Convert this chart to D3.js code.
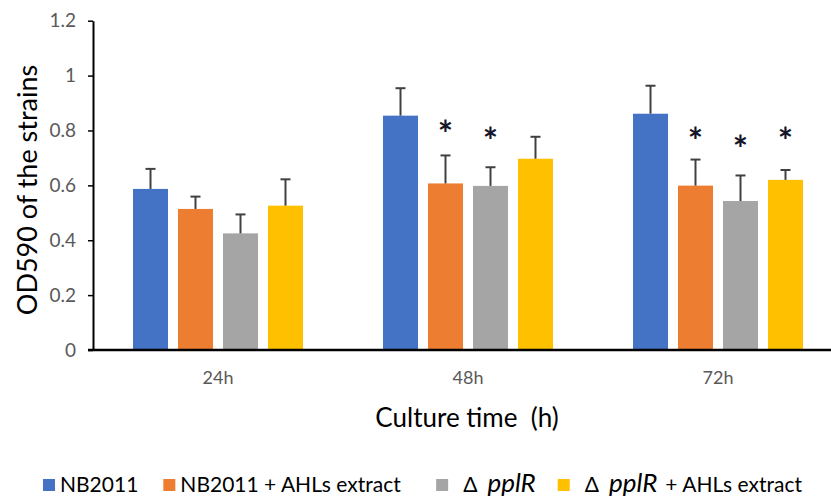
<!DOCTYPE html>
<html>
<head>
<meta charset="utf-8">
<script src="https://cdn.jsdelivr.net/npm/d3@7"></script>
<style>
  body { margin: 0; background: #fff; }
  svg { display: block; }
</style>
</head>
<body>
<svg id="chart" width="831" height="499"></svg>
<script>
// --- data ---
const times = ["24h", "48h", "72h"];
const seriesNames = ["NB2011", "NB2011 + AHLs extract", "ΔpplR", "ΔpplR + AHLs extract"];
const nb2011 = [0.587, 0.854, 0.861];
const nb2011Err = [0.073, 0.100, 0.102];
const nb2011Ahl = [0.514, 0.607, 0.599];
const nb2011AhlErr = [0.045, 0.102, 0.095];
const pplR = [0.425, 0.598, 0.543];
const pplRErr = [0.069, 0.068, 0.093];
const pplRAhl = [0.526, 0.697, 0.620];
const pplRAhlErr = [0.096, 0.080, 0.036];
// level (in OD units) where the significance star sits, null = none
const nb2011Star = [null, null, null];
const nb2011AhlStar = [null, 0.803, 0.777];
const pplRStar = [null, 0.777, 0.748];
const pplRAhlStar = [null, null, 0.777];
const yTicks = [0, 0.2, 0.4, 0.6, 0.8, 1, 1.2];

const colors = ["#4472C4", "#ED7D31", "#A5A5A5", "#FFC000"];
const values = [nb2011, nb2011Ahl, pplR, pplRAhl];
const errs = [nb2011Err, nb2011AhlErr, pplRErr, pplRAhlErr];
const stars = [nb2011Star, nb2011AhlStar, pplRStar, pplRAhlStar];

const rows = [];
seriesNames.forEach((s, si) => {
    times.forEach((t, ti) => {
        rows.push({ series: s, si, time: t, v: values[si][ti], e: errs[si][ti], star: stars[si][ti] });
    });
});

const svg = d3.select("#chart");
const W = 831, H = 499;
const font = "Lato, 'Open Sans', sans-serif";
const mLeft = 93, mRight = 843, mTop = 20.7, mBottom = 350;

const x0 = d3.scaleBand().domain(times).range([mLeft, mRight]).paddingInner(0).paddingOuter(0);
const x1 = d3.scaleBand().domain(seriesNames).range([0, x0.bandwidth()])
    .paddingInner(0.222).paddingOuter(0.889);
const y = d3.scaleLinear().domain([0, 1.2]).range([mBottom, mTop]);

// bars
svg.append("g").selectAll("rect")
    .data(rows)
    .join("rect")
    .attr("x", d => x0(d.time) + x1(d.series))
    .attr("y", d => y(d.v))
    .attr("width", x1.bandwidth())
    .attr("height", d => y(0) - y(d.v))
    .attr("fill", d => colors[d.si]);

// error bars (upper only)
const eb = svg.append("g").attr("stroke", "#404040").attr("stroke-width", 2);
rows.forEach(d => {
    const cx = x0(d.time) + x1(d.series) + x1.bandwidth() / 2;
    eb.append("line").attr("x1", cx).attr("x2", cx).attr("y1", y(d.v)).attr("y2", y(d.v + d.e));
    eb.append("line").attr("x1", cx - 5).attr("x2", cx + 5).attr("y1", y(d.v + d.e)).attr("y2", y(d.v + d.e));
});

// significance stars
svg.append("g").selectAll("text")
    .data(rows.filter(d => d.star !== null))
    .join("text")
    .attr("x", d => x0(d.time) + x1(d.series) + x1.bandwidth() / 2)
    .attr("y", d => y(d.star) + 17)
    .attr("text-anchor", "middle")
    .style("font-family", font)
    .style("font-size", "36px")
    .style("font-weight", "bold")
    .attr("fill", "#14142a")
    .text("*");

// y axis
const yAxis = svg.append("g")
    .attr("transform", `translate(${mLeft},0)`)
    .call(d3.axisLeft(y).tickValues(yTicks).tickSize(5).tickSizeOuter(0).tickFormat(d => d).tickPadding(12));
yAxis.select(".domain").attr("stroke", "#000").attr("stroke-width", 2);
yAxis.selectAll(".tick line").attr("stroke", "#000").attr("stroke-width", 1.5);
yAxis.selectAll(".tick text")
    .style("font-family", font).style("font-size", "19px").attr("fill", "#595959");

// x axis baseline
svg.append("line")
    .attr("x1", mLeft - 5).attr("x2", W)
    .attr("y1", y(0)).attr("y2", y(0))
    .attr("stroke", "#000").attr("stroke-width", 2.5);

// category labels
svg.append("g").selectAll("text")
    .data(times)
    .join("text")
    .attr("x", d => x0(d) + x0.bandwidth() / 2)
    .attr("y", 384)
    .attr("text-anchor", "middle")
    .style("font-family", font).style("font-size", "18px")
    .attr("fill", "#595959")
    .text(d => d);

// axis titles
svg.append("text")
    .attr("x", (mLeft + mRight) / 2 - 1).attr("y", 427)
    .attr("text-anchor", "middle")
    .style("font-family", font).style("font-size", "26px")
    .attr("fill", "#000")
    .attr("xml:space", "preserve")
    .text("Culture time  (h)");

svg.append("text")
    .attr("transform", `translate(37,190) rotate(-90)`)
    .attr("text-anchor", "middle")
    .style("font-family", font).style("font-size", "27px")
    .attr("fill", "#000")
    .text("OD590 of the strains");

// legend
const legend = svg.append("g").style("font-family", font).style("font-size", "21px");
const legY = 485;
const gaps = [25, 35, 22, 0];
let lx = 43;
seriesNames.forEach((s, i) => {
    legend.append("rect")
        .attr("x", lx).attr("y", legY - 6).attr("width", 12).attr("height", 12)
        .attr("fill", colors[i]);
    const t = legend.append("text").attr("x", lx + 17).attr("y", legY + 7).attr("fill", "#000");
    if (s.startsWith("Δ")) {
        t.attr("x", lx + 27);
        t.append("tspan").text("Δ");
        t.append("tspan").attr("dx", 10).style("font-style", "italic").style("font-size", "26px").text("pplR");
        if (s.includes("+")) t.append("tspan").attr("dx", 8).text("+ AHLs extract");
    } else {
        t.text(s);
    }
    const bb = t.node().getBBox();
    lx = bb.x + bb.width + gaps[i];
});
</script>
</body>
</html>
